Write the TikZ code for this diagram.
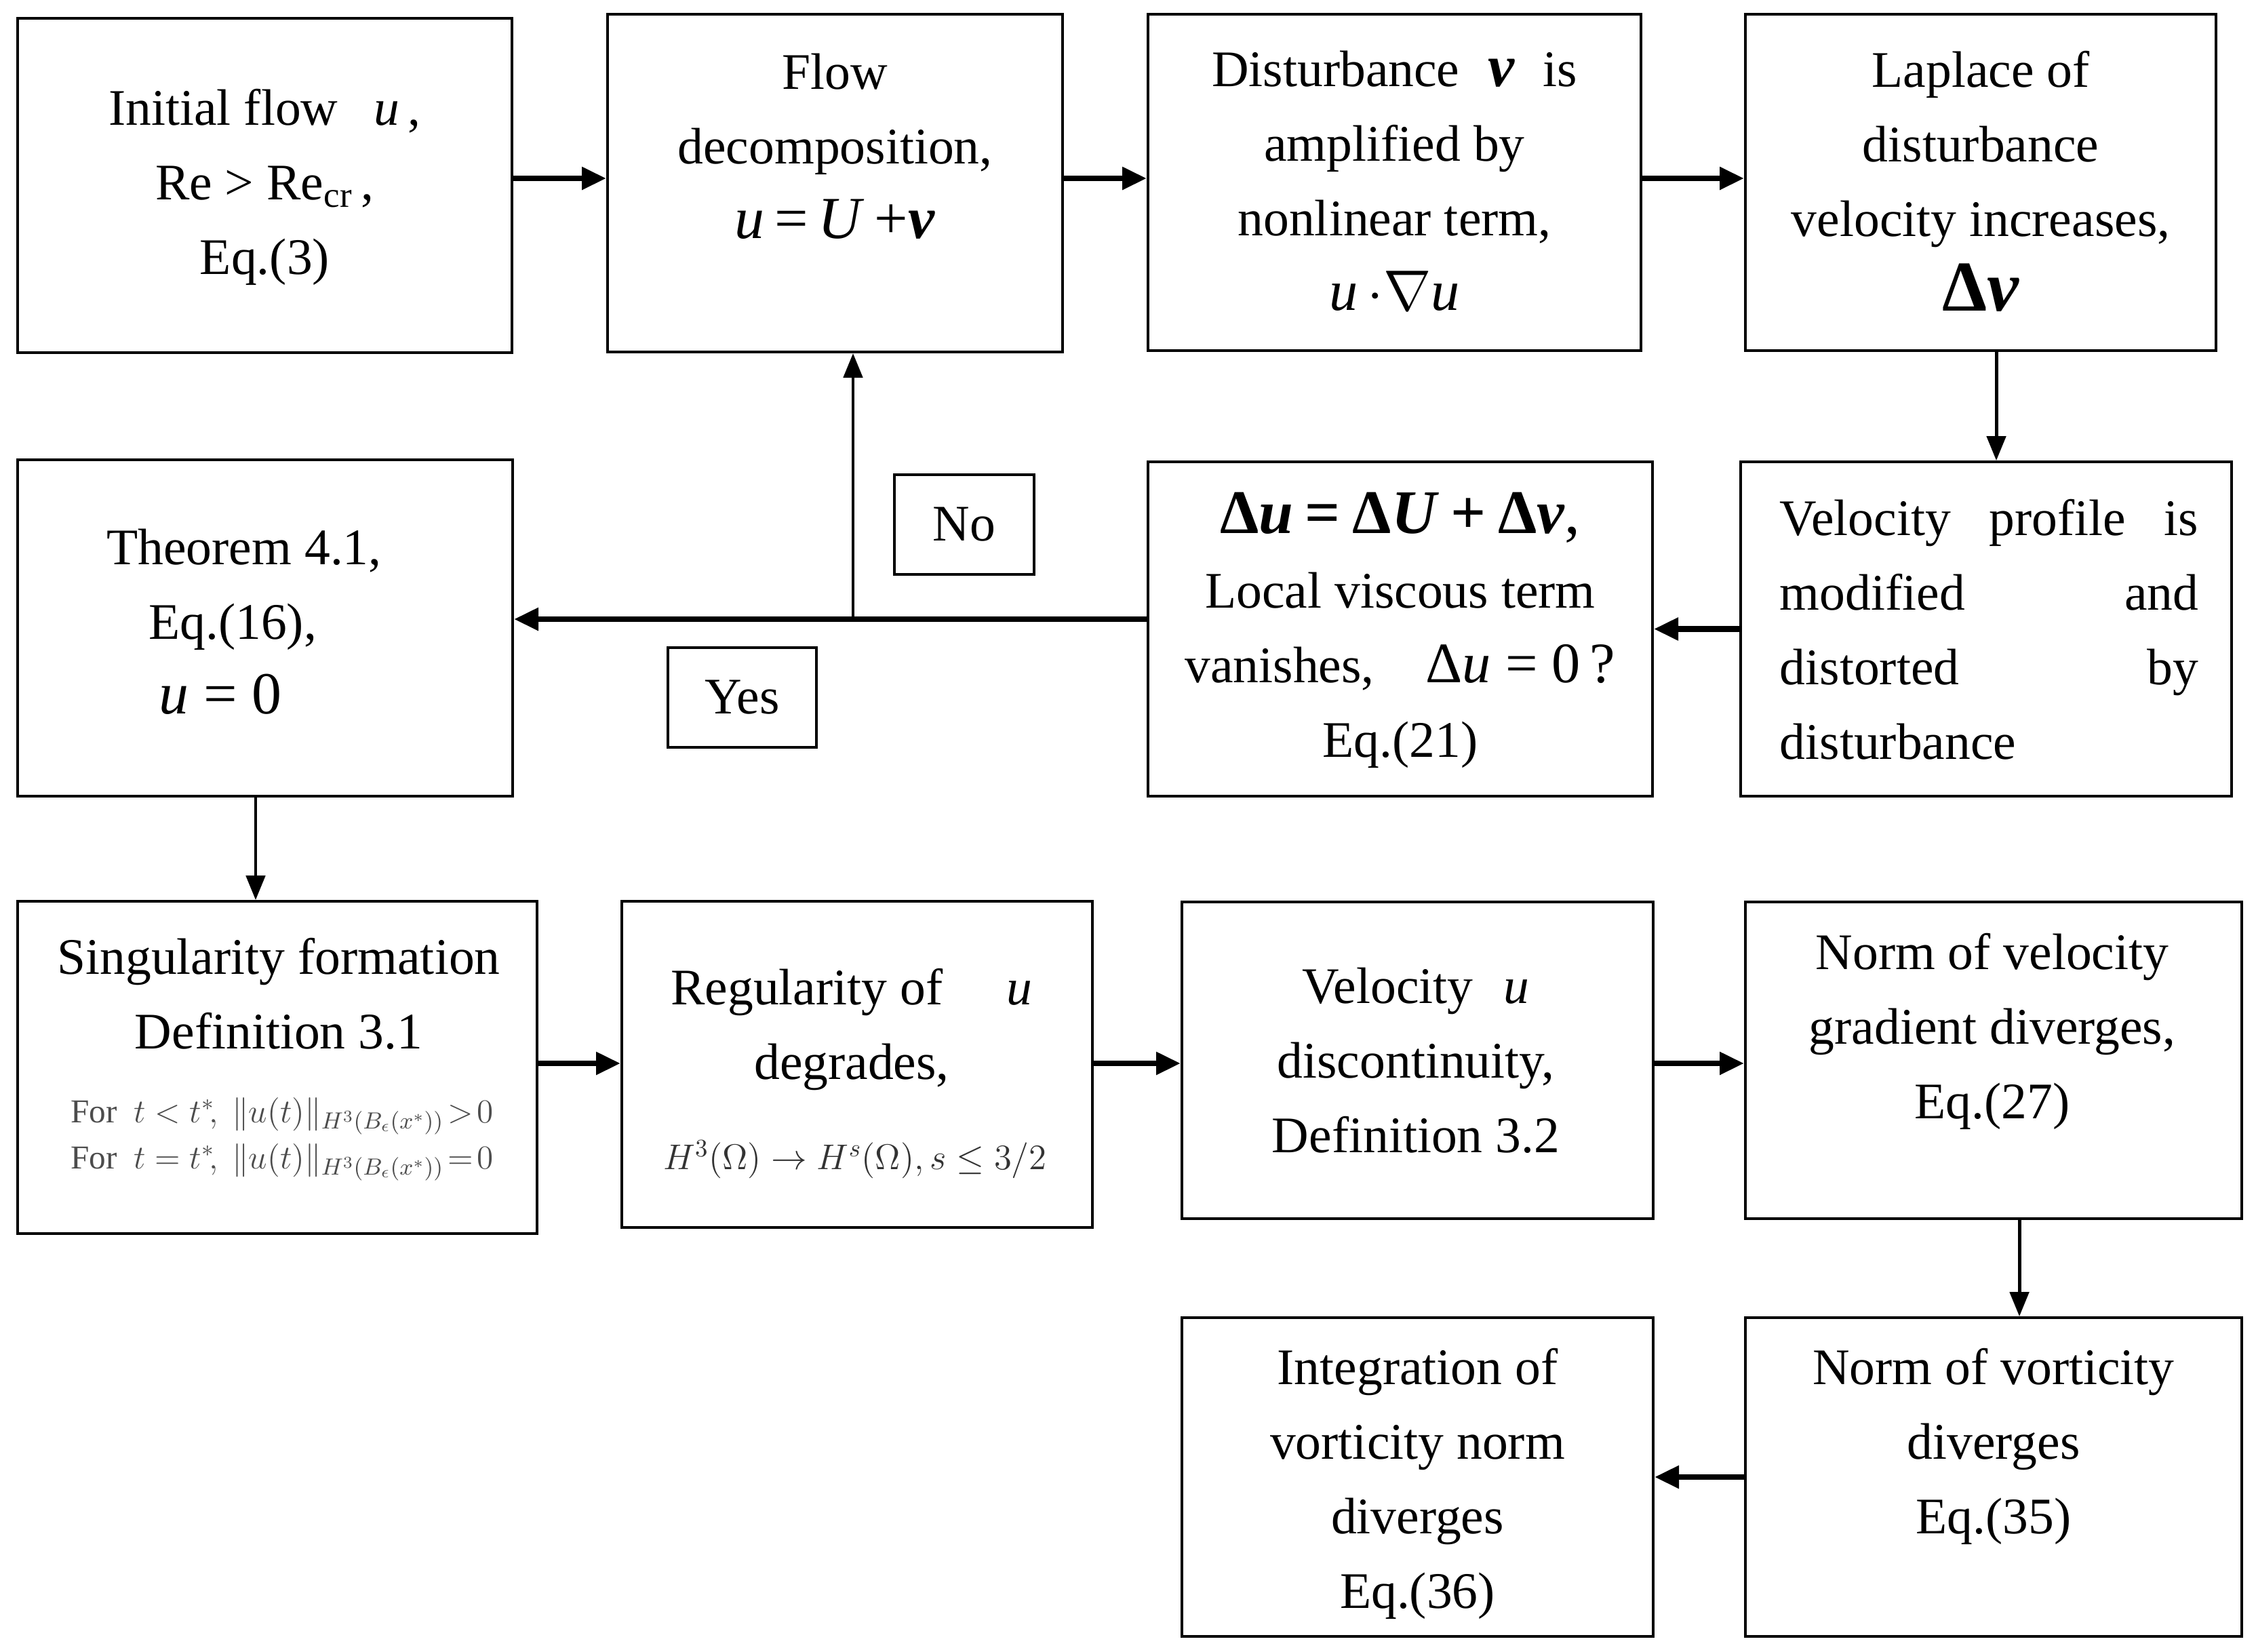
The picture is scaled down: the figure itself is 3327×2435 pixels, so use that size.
\documentclass[tikz,border=0pt]{standalone}
\usepackage{fix-cm}
\usepackage{amsmath,bm}
\usepackage{fontspec}
\setmainfont{Liberation Serif}
\usetikzlibrary{arrows.meta}
\tikzset{
  box/.style={draw, line width=1pt, rectangle, inner sep=0pt},
  txt/.style={align=center, inner sep=0pt, font=\fontsize{21.5}{31.3}\selectfont},
  smalltxt/.style={align=center, inner sep=0pt, font=\fontsize{14}{19.3}\selectfont},
  arrH/.style={line width=2.4pt, -{Triangle[length=0.36cm,width=0.32cm]}},
  arrV/.style={line width=1.4pt, -{Triangle[length=0.36cm,width=0.28cm]}},
}
\begin{document}
\begin{tikzpicture}[x=0.01cm,y=-0.01cm]
\useasboundingbox (0,0) rectangle (3327,2435);
% boxes
\node[box, minimum width=7.29cm, minimum height=4.93cm] (A) at (390.5,273.5) {};
\node[box, minimum width=6.71cm, minimum height=4.98cm] (B) at (1231.5,270) {};
\node[box, minimum width=7.27cm, minimum height=4.96cm] (C) at (2056.5,269) {};
\node[box, minimum width=6.94cm, minimum height=4.96cm] (D) at (2921,269) {};
\node[box, minimum width=7.30cm, minimum height=4.96cm] (E) at (391,926) {};
\node[box, minimum width=7.44cm, minimum height=4.93cm] (F) at (2065,927.5) {};
\node[box, minimum width=7.24cm, minimum height=4.93cm] (G) at (2929,927.5) {};
\node[box, minimum width=7.66cm, minimum height=4.90cm] (H) at (409,1574) {};
\node[box, minimum width=6.94cm, minimum height=4.81cm] (I) at (1264,1569.5) {};
\node[box, minimum width=6.95cm, minimum height=4.67cm] (J) at (2090.5,1563.5) {};
\node[box, minimum width=7.32cm, minimum height=4.67cm] (K) at (2940,1563.5) {};
\node[box, minimum width=6.95cm, minimum height=4.70cm] (L) at (2090.5,2178) {};
\node[box, minimum width=7.32cm, minimum height=4.70cm] (M) at (2940,2178) {};
\node[box, minimum width=2.06cm, minimum height=1.47cm, font=\fontsize{21.5}{31.3}\selectfont] (no) at (1422,773.5) {No};
\node[box, minimum width=2.19cm, minimum height=1.47cm, font=\fontsize{21.5}{31.3}\selectfont] (yes) at (1094.5,1028.5) {Yes};
% texts
\node[txt] (A-t) at (390.5,276) {Initial flow\hspace{0.7em}\textit{u}\,,\\ Re > Re\textsubscript{cr}\,,\\ Eq.(3)};
\node[txt] (B-t) at (1231.5,216) {Flow\\ decomposition,\\ {\fontsize{25}{31.3}\selectfont\textit{u}\,=\,\textit{U}\,+\textbf{\textit{v}}}};
\node[txt] (C-t) at (2056.5,267) {Disturbance\hspace{0.55em}{\fontsize{25}{31.3}\selectfont\textbf{\textit{v}}}\hspace{0.55em}is\\ amplified by\\ nonlinear term,\\ {\fontsize{24}{31.3}\selectfont\textit{u}$\,\cdot\nabla$\textit{u}}};
\node[txt] (D-t) at (2921,267) {Laplace of\\ disturbance\\ velocity increases,\\ {\fontsize{30}{31.3}\selectfont\textbf{Δ\textit{v}}}};
\node[txt] (E-t) at (360,917) {Theorem 4.1,\\ Eq.(16),\rule{9.6pt}{0pt}\\ {\fontsize{25}{31.3}\selectfont\textit{u} = 0}\rule{20pt}{0pt}};
\node[txt] (F-t) at (2065,929) {{\fontsize{26}{31.3}\selectfont\textbf{Δ\textit{u}\hspace{5pt}=\hspace{5pt}Δ\textit{U}\hspace{5pt}+\hspace{5pt}Δ\textit{v}},}\\ Local viscous term\\ vanishes,\quad{\fontsize{24}{31.3}\selectfont Δ\textit{u} = 0\,?}\\ Eq.(21)};
\node[txt, align=left, text width=6.17cm] (G-t) at (2933.5,928) {Velocity\hfill profile\hfill is\\ modified\hfill and\\ distorted\hfill by\\ disturbance};
\node[txt] (H-t) at (411,1465) {Singularity formation\\ Definition 3.1};
\node[smalltxt, text=black!70] (H-f) at (416,1680) {For\ \ $t<t^{*}\!,\ \|u(t)\|_{H^{3}(B_{\epsilon}(x^{*}))}\!>\!0$\\ For\ \ $t=t^{*}\!,\ \|u(t)\|_{H^{3}(B_{\epsilon}(x^{*}))}\!=\!0$};
\node[txt] (I-t) at (1256,1518) {Regularity of\quad\ \textit{u}\\ degrades,};
\node[smalltxt, font=\fontsize{15}{19.3}\selectfont, text=black!80] (I-f) at (1261,1710) {$H^{3}(\Omega)\rightarrow H^{s}(\Omega), s\le 3/2$};
\node[txt] (J-t) at (2088,1564) {Velocity\hspace{0.6em}\textit{u}\\ discontinuity,\\ Definition 3.2};
\node[txt] (K-t) at (2938,1521) {Norm of velocity\\ gradient diverges,\\ Eq.(27)};
\node[txt] (L-t) at (2090.5,2188) {Integration of\\ vorticity norm\\ diverges\\ Eq.(36)};
\node[txt] (M-t) at (2940,2133) {Norm of vorticity\\ diverges\\ Eq.(35)};
% connectors
\coordinate (toprow) at (0,263);
\coordinate (midrow) at (0,1568);
\coordinate (j) at (1258,913);
\draw[arrH] (A.east |- toprow) -- (B.west |- toprow);
\draw[arrH] (B.east |- toprow) -- (C.west |- toprow);
\draw[arrH] (C.east |- toprow) -- (D.west |- toprow);
\draw[arrV] ([xshift=0.15cm]G.north |- D.south) -- ([xshift=0.15cm]G.north);
\draw[arrH] (G.west) -- (G.west -| F.east);
\draw[arrH] (F.west |- j) -- (E.east |- j);
\draw[arrV] (j) -- (j |- B.south);
\draw[arrV] ([xshift=-0.14cm]E.south) -- ([xshift=-0.14cm]E.south |- H.north);
\draw[arrH] (H.east |- midrow) -- (I.west |- midrow);
\draw[arrH] (I.east |- midrow) -- (J.west |- midrow);
\draw[arrH] (J.east |- midrow) -- (K.west |- midrow);
\draw[arrV] ([xshift=0.38cm]K.south) -- ([xshift=0.38cm]M.north);
\draw[arrH] (M.west) -- (M.west -| L.east);
\end{tikzpicture}
\end{document}
